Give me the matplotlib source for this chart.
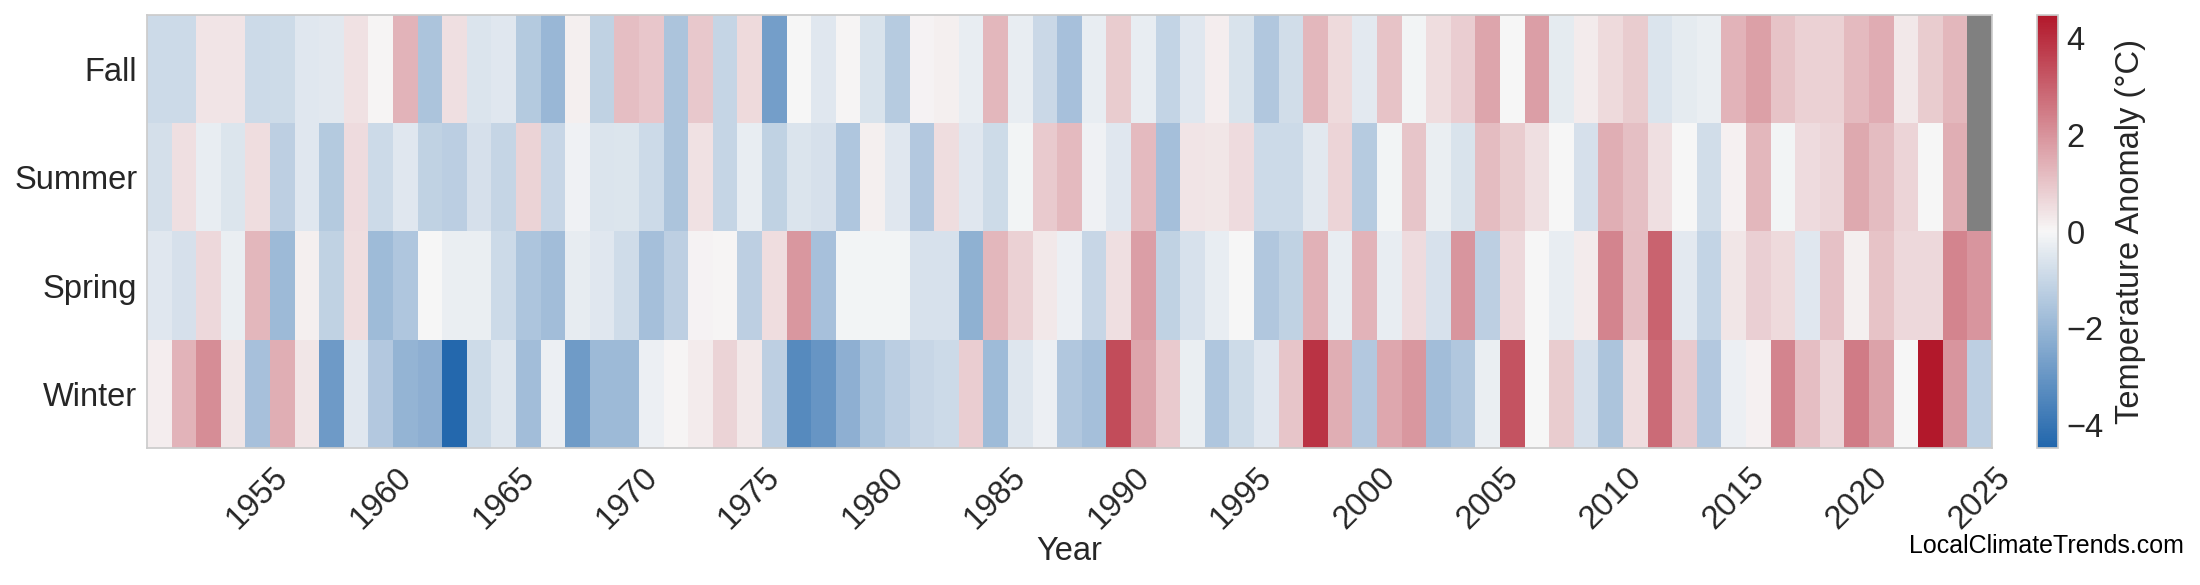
import numpy as np
import matplotlib
matplotlib.use("Agg")
import matplotlib.pyplot as plt
from matplotlib.colors import LinearSegmentedColormap

plt.rcParams['font.family'] = ['Liberation Sans', 'DejaVu Sans']

years = list(range(1951, 2026))
seasons = ["Fall", "Summer", "Spring", "Winter"]

# anomalies (°C), 1951 -> 2025
fall = [-0.9, -0.9, 0.35, 0.35, -0.9, -0.85, -0.48, -0.42, 0.42, 0.05,
        1.34, -1.57, 0.46, -0.58, -0.46, -1.38, -1.95, 0.15, -1.15, 1.15,
        0.95, -1.57, 0.92, -1.02, 0.56, -2.7, 0.0, -0.48, 0.05, -0.6,
        -1.36, 0.1, 0.15, -0.3, 1.28, -0.3, -0.94, -1.67, -0.29, 0.84,
        -0.29, -1.06, -0.48, 0.2, -0.62, -1.46, -0.77, 1.28, 0.58, -0.4,
        1.04, -0.08, 0.5, 0.82, 1.63, 0.0, 1.76, -0.38, 0.22, 0.58,
        0.84, -0.56, -0.36, -0.25, 1.34, 1.74, 1.02, 0.74, 0.74, 1.22,
        1.5, 0.28, 0.84, 1.28, np.nan]
summer = [-0.73, 0.46, -0.29, -0.54, 0.5, -1.19, -0.48, -1.38, 0.54, -0.88,
          -0.48, -1.13, -1.23, -0.69, -1.02, 0.7, -0.98, -0.17, -0.56, -0.54,
          -0.88, -1.55, 0.44, -1.04, -0.29, -1.13, -0.58, -0.69, -1.48, 0.14,
          -0.48, -1.42, 0.5, -0.46, -0.84, -0.08, 0.88, 1.2, -0.14, -0.48,
          1.22, -1.71, 0.38, 0.34, 0.54, -0.88, -0.88, -0.44, 0.68, -1.34,
          -0.08, 1.0, -0.25, -0.62, 1.18, 0.86, 0.48, 0.02, -0.67, 1.46,
          1.1, 0.46, 0.0, -0.8, 0.12, 1.28, -0.1, 0.54, 0.66, 1.56,
          1.16, 0.68, 0.02, 1.46, np.nan]
spring = [-0.46, -0.69, 0.6, -0.27, 1.26, -1.86, 0.15, -1.13, 0.5, -1.82,
          -1.48, 0.0, -0.25, -0.25, -0.88, -1.52, -1.78, -0.33, -0.46, -0.82,
          -1.71, -1.21, 0.1, 0.06, -1.19, 0.5, 1.9, -1.65, -0.1, -0.1,
          -0.1, -0.65, -0.65, -2.15, 1.26, 0.74, 0.3, -0.21, -0.98, 0.46,
          1.78, -1.13, -0.65, -0.31, 0.0, -1.44, -1.13, 1.38, -0.31, 1.34,
          -0.31, 0.54, -0.65, 1.94, -1.19, 0.6, 0.0, -0.29, 0.22, 2.3,
          1.14, 2.95, -0.4, -1.06, 0.34, 0.78, 0.58, -0.48, 1.06, 0.14,
          1.02, 0.62, 0.62, 2.3, 1.94]
winter = [0.2, 1.36, 2.12, 0.34, -1.67, 1.46, 0.34, -2.84, -0.48, -1.42,
          -2.03, -2.2, -4.38, -0.86, -0.52, -1.78, -0.23, -2.82, -1.88, -1.88,
          -0.23, 0.05, 0.22, 0.7, 0.28, -1.21, -3.34, -2.97, -2.17, -1.6,
          -1.23, -0.98, -0.9, 0.82, -1.82, -0.52, -0.23, -1.46, -1.71, 3.39,
          1.63, 0.9, -0.25, -1.48, -0.84, -0.46, 0.98, 3.91, 1.44, -1.4,
          1.58, 1.9, -1.75, -1.44, -0.25, 3.27, 0.0, 0.86, -0.69, -1.55,
          0.5, 2.78, 0.9, -1.4, -0.23, 0.12, 2.3, 1.14, 0.64, 2.46,
          1.7, 0.02, 4.47, 1.94, -1.19]

data = np.array([fall, summer, spring, winter])
vmax = np.nanmax(np.abs(data))

cmap = LinearSegmentedColormap.from_list("anom", ["#2166ac", "#f7f7f7", "#b2182b"])
cmap.set_bad("gray")

fs = 23.5

fig = plt.figure(figsize=(22, 5.85), dpi=100)
ax = fig.add_axes([147 / 2200, 137 / 585, 1845 / 2200, 433 / 585])
cax = fig.add_axes([2037 / 2200, 137 / 585, 21 / 2200, 433 / 585])

im = ax.imshow(np.ma.masked_invalid(data), cmap=cmap, vmin=-vmax, vmax=vmax,
               aspect="auto", interpolation="nearest",
               extent=(years[0] - 0.5, years[-1] + 0.5, len(seasons) - 0.5, -0.5))

ax.set_yticks(range(len(seasons)))
ax.set_yticklabels(seasons)
ax.set_xticks(range(1955, 2026, 5))
plt.setp(ax.get_xticklabels(), rotation=45, ha="center")
ax.tick_params(axis="both", length=0, labelsize=fs, colors=".15")
ax.tick_params(axis="x", pad=10)
ax.tick_params(axis="y", pad=7)
for s in ax.spines.values():
    s.set_edgecolor("#cccccc")
    s.set_linewidth(1.25)
ax.set_xlabel("Year", fontsize=fs, color=".15")
ax.xaxis.label.set_va("center")
ax.xaxis.set_label_coords(0.5, -0.24)

cb = fig.colorbar(im, cax=cax)
cb.set_ticks([-4, -2, 0, 2, 4])
cb.outline.set_edgecolor("#cccccc")
cb.outline.set_linewidth(1.25)
cax.tick_params(length=0, labelsize=fs, colors=".15", pad=6)
cb.set_label("Temperature Anomaly (°C)", fontsize=fs, color=".15", labelpad=8)

fig.text(2184 / 2200, 39 / 585, "LocalClimateTrends.com", ha="right", va="center",
         fontsize=18, color="black")

fig.savefig("out.png", dpi=100)
